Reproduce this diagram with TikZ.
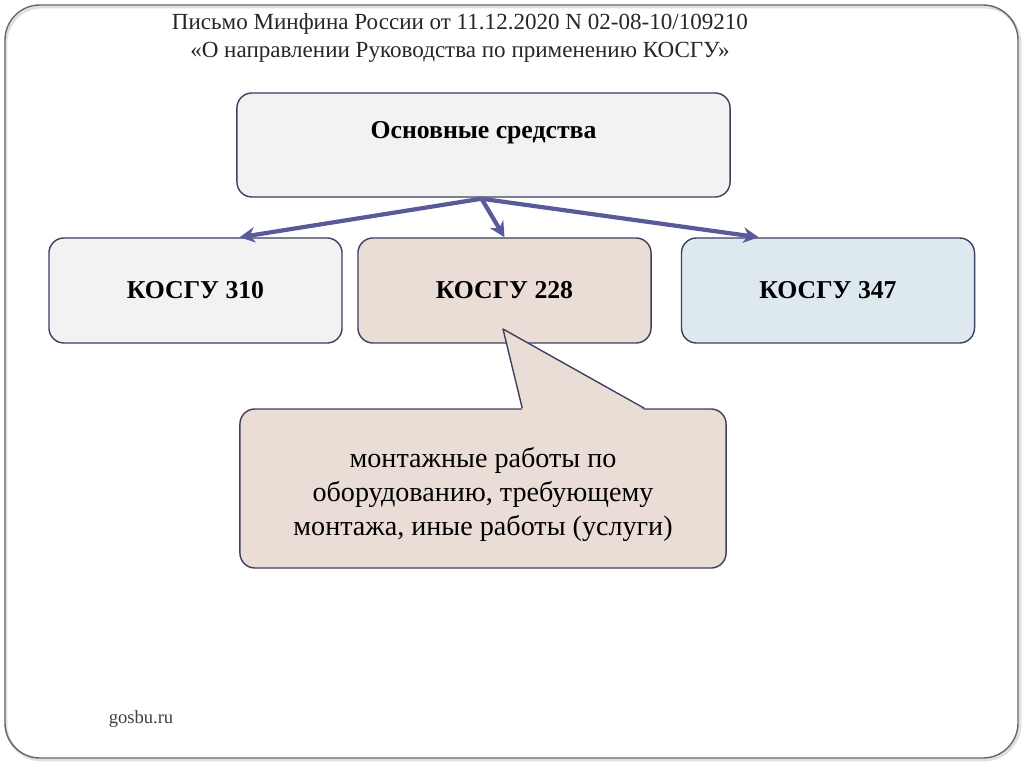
\documentclass[tikz,border=0pt]{standalone}
\usepackage{fontspec}
\setmainfont{Liberation Serif}
\usetikzlibrary{calc,arrows.meta}
\definecolor{boxline}{HTML}{3F3F5F}
\definecolor{arrowcol}{HTML}{5A5A9A}
\definecolor{greyfill}{HTML}{F2F2F2}
\definecolor{beigefill}{HTML}{EADDD5}
\definecolor{bluefill}{HTML}{DEE8EF}
\tikzset{
  kbox/.style={draw=boxline, line width=1pt, rounded corners=0.375cm,
    minimum width=7.325cm, minimum height=2.625cm, align=center,
    font=\fontsize{18.3}{22}\selectfont\bfseries},
  karrow/.style={draw=arrowcol, line width=3pt, -{Stealth[length=11pt,width=11pt]}}
}

\begin{document}
\begin{tikzpicture}[x=0.025cm, y=-0.025cm]
			%%%%% START %%%%%
			\useasboundingbox (0,0) rectangle (1024,767);
			
			% frame
			\draw[line width=2pt, color=black!12, rounded corners=0.9cm] (6,7) rectangle (1020,760);
			\draw[line width=1pt, color=black!60, rounded corners=0.875cm] (5,5) rectangle (1018,758);
			
			% title
			\node[align=center, font=\fontsize{16.4}{20}\selectfont, color=black!85] (title) at (460,38)
				{Письмо Минфина России от 11.12.2020 N 02-08-10/109210\\«О направлении Руководства по применению КОСГУ»};
			
			% boxes
			\node[kbox, fill=greyfill, minimum width=12.325cm, minimum height=2.6cm] (os) at (483.5,145) {};
			\node[font=\fontsize{18.3}{22}\selectfont\bfseries] (osname) at ($(os.center)+(0,-12)$) {Основные средства};
			\node[kbox, fill=greyfill] (k310) at (195.5,290.5) {КОСГУ 310};
			\node[kbox, fill=beigefill] (k228) at (504.5,290.5) {КОСГУ 228};
			\node[kbox, fill=bluefill] (k347) at (828,290.5) {КОСГУ 347};
			
			% arrows
			\draw[karrow] ($(os.south)+(-2,1)$) -- ($(k310.north)+(44,0)$);
			\draw[karrow] ($(os.south)+(-2,1)$) -- (k228.north);
			\draw[karrow] ($(os.south)+(-2,1)$) -- ($(k347.north west)+(78,0)$);
			
			% callout
			\node[draw=boxline, line width=1pt, fill=beigefill, rounded corners=0.375cm,
				minimum width=12.15cm, minimum height=3.975cm] (note) at (483,488.5) {};
			\coordinate (tip) at (503,329);
			\fill[beigefill] (tip) -- ($(note.north west)+(283,1.5)$) -- ($(note.north west)+(405,1.5)$) -- cycle;
			\draw[boxline, line width=1pt, line join=round] ($(note.north west)+(283,0)$) -- (tip) -- ($(note.north west)+(405,0)$);
			\node[align=center, font=\fontsize{20}{24}\selectfont] (notetext) at ($(note.center)+(0,6)$)
				{монтажные работы по\\оборудованию, требующему\\монтажа, иные работы (услуги)};
			
			% source
			\node[font=\fontsize{13.2}{15}\selectfont, color=black!75] (src) at (141,719) {gosbu.ru};
			
			%%%%% END %%%%%
		\end{tikzpicture}
\end{document}
